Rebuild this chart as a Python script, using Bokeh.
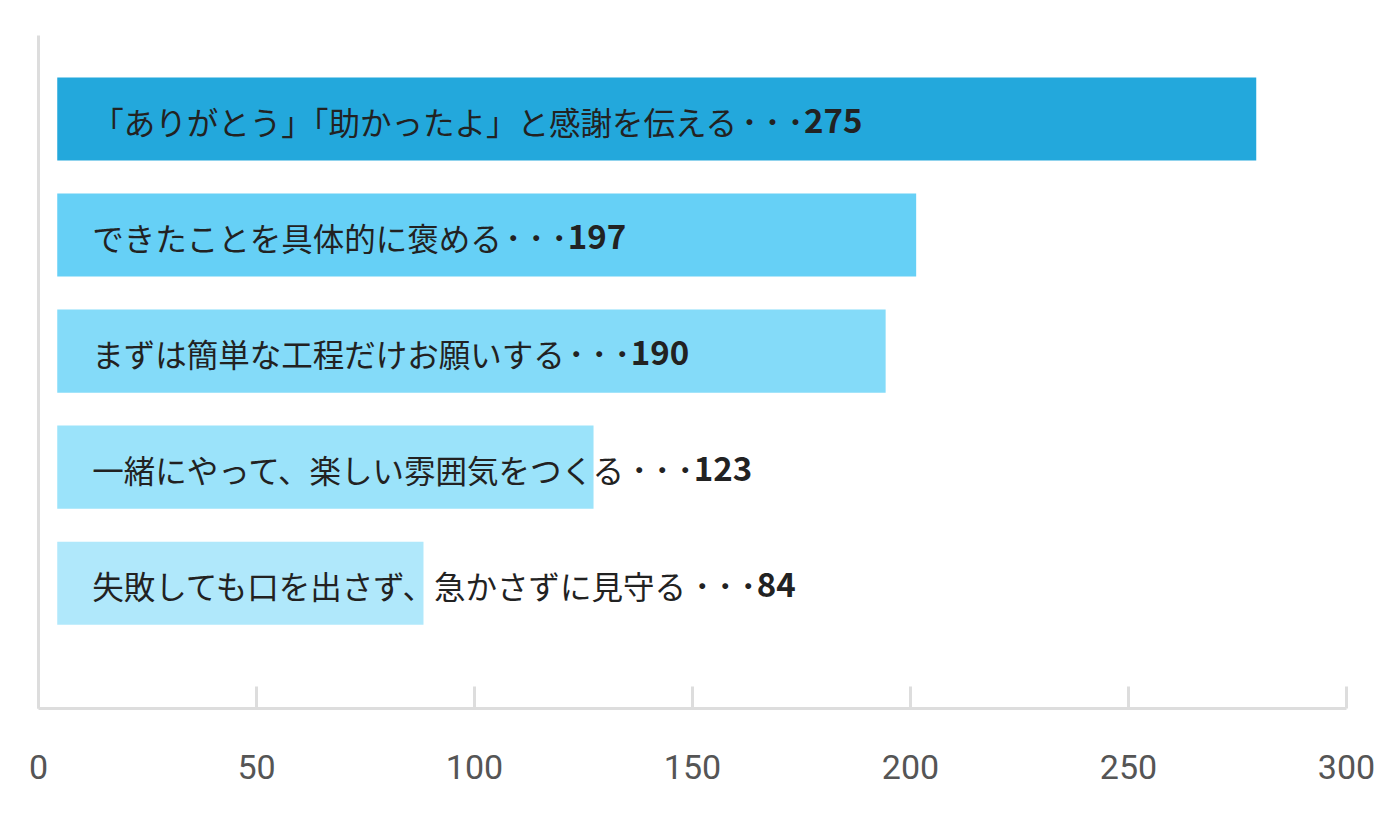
from bokeh.plotting import figure
from bokeh.models import ColumnDataSource, Range1d, FixedTicker
from bokeh.core.properties import value
from bokeh.embed import file_html
from bokeh.resources import INLINE

labels = [
    "「ありがとう」「助かったよ」と感謝を伝える",
    "できたことを具体的に褒める",
    "まずは簡単な工程だけお願いする",
    "一緒にやって、楽しい雰囲気をつくる",
    "失敗しても口を出さず、急かさずに見守る",
]
counts = [275, 197, 190, 123, 84]
bar_colors = ["#23a8dc", "#66d0f6", "#84dbf9", "#9be3fa", "#b0e8fb"]
x_ticks = [0, 50, 100, 150, 200, 250, 300]

BAR_BASE = 4.3        # bars are drawn slightly inset from the axis
FS_LABEL = 31.5       # px, label font size
FS_DOT = 23           # px, leader dots font size
FS_NUM = 33           # px, number font size
TEXT_PAD = 35         # px from bar start to label
DOTS = "・・・"


def label_width(s):
    # full-width glyphs; adjacent closing/opening brackets are trimmed by the browser
    return len(s) * FS_LABEL - s.count("」「") * FS_LABEL / 2


n = len(labels)
ypos = [n - i for i in range(n)]
src = ColumnDataSource(dict(
    y=ypos,
    left=[BAR_BASE] * n,
    right=[BAR_BASE + c for c in counts],
    color=bar_colors,
    label=labels,
    dots=[DOTS] * n,
    num=[str(c) for c in counts],
    dot_off=[TEXT_PAD + label_width(l) for l in labels],
    num_off=[TEXT_PAD + label_width(l) + len(DOTS) * FS_DOT - 3 for l in labels],
))

p = figure(width=1392, height=812, output_backend="svg", toolbar_location=None,
           x_range=Range1d(0, 300), y_range=Range1d(ypos[-1] - 1.08, ypos[0] + 0.72),
           min_border_left=38, min_border_right=46, min_border_top=35, min_border_bottom=104)
p.outline_line_color = None
p.grid.visible = False
p.background_fill_color = "white"
p.border_fill_color = "white"

p.hbar(y="y", left="left", right="right", height=0.716, color="color", line_color=None, source=src)

p.text(x="left", y="y", text="label", source=src, x_offset=TEXT_PAD, y_offset=2,
       text_font=value("Noto Sans CJK JP"), text_font_size=f"{FS_LABEL}px",
       text_color="#222222", text_baseline="middle", text_align="left")
p.text(x="left", y="y", text="dots", source=src, x_offset="dot_off", y_offset=2,
       text_font=value("Noto Sans CJK JP"), text_font_size=f"{FS_DOT}px", text_font_style="bold",
       text_color="#222222", text_baseline="middle", text_align="left")
p.text(x="left", y="y", text="num", source=src, x_offset="num_off", y_offset=1,
       text_font=value("Noto Sans CJK JP"), text_font_size=f"{FS_NUM}px", text_font_style="bold",
       text_color="#222222", text_baseline="middle", text_align="left")

# left axis: line only, no ticks or labels
yax = p.yaxis[0]
yax.ticker = FixedTicker(ticks=[])
yax.axis_line_color = "#dddddd"
yax.axis_line_width = 3
yax.major_tick_line_color = None
yax.minor_tick_line_color = None
yax.major_tick_in = 0
yax.major_tick_out = 0
yax.major_label_standoff = 0

ax = p.xaxis[0]
ax.ticker = FixedTicker(ticks=x_ticks)
ax.axis_line_color = "#dddddd"
ax.axis_line_width = 3
ax.major_tick_line_color = "#dddddd"
ax.major_tick_line_width = 3
ax.major_tick_in = 22
ax.major_tick_out = 0
ax.minor_tick_line_color = None
ax.major_label_standoff = 46
ax.major_label_text_font = "Roboto"
ax.major_label_text_font_size = "34px"
ax.major_label_text_color = "#555555"

open("out.html", "w").write(file_html(p, INLINE))
